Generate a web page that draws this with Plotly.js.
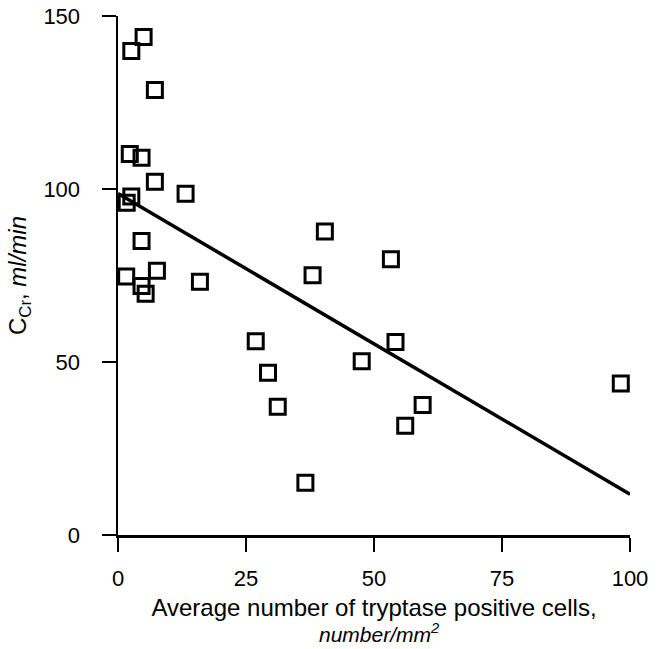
<!DOCTYPE html>
<html>
<head>
<meta charset="utf-8">
<script src="https://cdn.plot.ly/plotly-3.0.1.min.js"></script>
<style>html,body{margin:0;padding:0;background:#fff;}#chart{width:660px;height:649px;}</style>
</head>
<body>
<div id="chart"></div>
<script>
// Average number of tryptase positive cells (number/mm2)
const tryptaseCells = [2.6, 5.0, 7.2, 2.3, 4.6, 7.2, 13.2, 2.6, 1.7, 4.6, 40.4, 1.6, 7.6, 4.6, 5.4, 16.0, 38.0, 53.3, 26.9, 54.2, 47.6, 29.3, 31.2, 59.5, 56.1, 36.6, 98.2];
// Creatinine clearance (ml/min)
const creatinineClearance = [139.9, 143.9, 128.6, 110.1, 109.0, 102.1, 98.6, 97.8, 96.0, 85.0, 87.7, 74.7, 76.4, 72.0, 69.7, 73.2, 75.1, 79.7, 56.0, 55.8, 50.2, 46.9, 37.1, 37.6, 31.6, 15.1, 43.8];
// Regression line end points
const fitX = [0, 100];
const fitY = [98.7, 11.8];
const xTicks = [0, 25, 50, 75, 100];
const yTicks = [0, 50, 100, 150];
const xTitleLine1 = 'Average number of tryptase positive cells,';
const xTitleLine2 = '<i>number/mm<sup>2</sup></i>';
const yTitle = 'C<sub>Cr</sub>, <i>ml/min</i>';

const fam = 'Liberation Sans, Arial, Helvetica, sans-serif';
const f = (s) => ({family: fam, size: s, color: '#000'});

Plotly.newPlot('chart', [
  {
    x: fitX, y: fitY, mode: 'lines', type: 'scatter',
    line: {color: '#000', width: 3.5}, hoverinfo: 'skip'
  },
  {
    x: tryptaseCells, y: creatinineClearance, mode: 'markers', type: 'scatter',
    marker: {symbol: 'square-open', size: 15, color: '#000', line: {width: 3, color: '#000'}},
    cliponaxis: false
  }
], {
  width: 660, height: 649,
  margin: {l: 118, r: 30, t: 16, b: 114},
  paper_bgcolor: '#fff', plot_bgcolor: '#fff',
  showlegend: false,
  font: f(22),
  xaxis: {
    range: [0, 100], tickvals: xTicks, ticktext: xTicks.map(String),
    showgrid: false, zeroline: false, showline: true, linecolor: '#000', linewidth: 2.5,
    ticks: 'outside', ticklen: 14, tickwidth: 2.5, tickcolor: '#000',
    ticklabelstandoff: 8,
    tickfont: f(22),
    automargin: false,
    title: {text: xTitleLine1, font: f(24), standoff: 10}
  },
  yaxis: {
    range: [0, 150], tickvals: yTicks, ticktext: yTicks.map(String),
    showgrid: false, zeroline: false, showline: true, linecolor: '#000', linewidth: 2.5,
    ticks: 'outside', ticklen: 14, tickwidth: 2.5, tickcolor: '#000',
    ticklabelstandoff: 17,
    tickfont: f(22),
    automargin: false,
    title: {text: yTitle, font: f(24), standoff: 10}
  },
  annotations: [{
    text: xTitleLine2, xref: 'paper', yref: 'paper', x: 0.51, y: 0,
    yshift: -113, xanchor: 'center', yanchor: 'bottom', showarrow: false,
    font: f(21)
  }]
}, {displayModeBar: false, staticPlot: true});
</script>
</body>
</html>
